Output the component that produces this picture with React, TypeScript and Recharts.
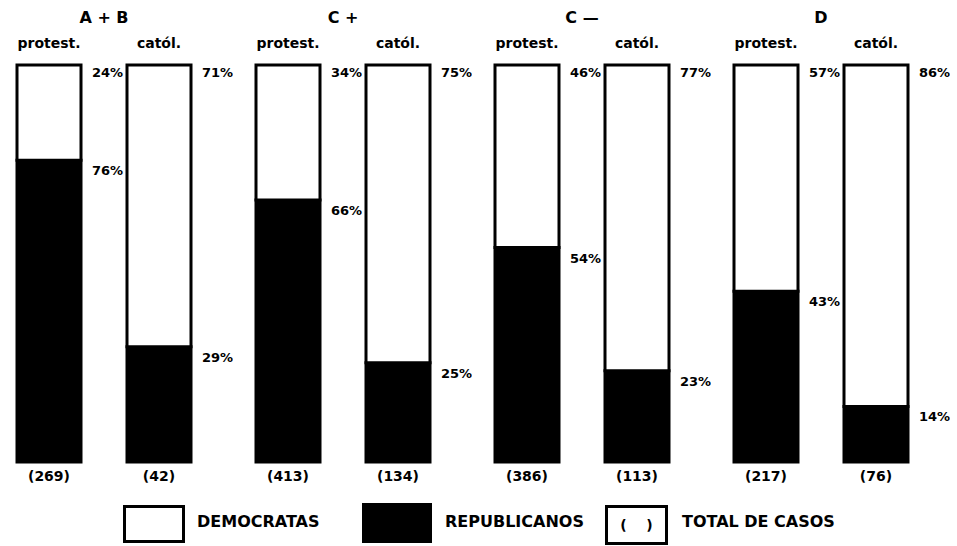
import React from 'react';
import { BarChart, Bar, XAxis, YAxis, LabelList } from 'recharts';

// grupos socioeconómicos y religión
const groups = ['A + B', 'C +', 'C —', 'D'];
const religions = ['protest.', 'catól.'];

// porcentajes por grupo: [protest., catól.]
const democratas = [
  [24, 71],
  [34, 75],
  [46, 77],
  [57, 86],
];
const republicanos = [
  [76, 29],
  [66, 25],
  [54, 23],
  [43, 14],
];
const totalCasos = [
  [269, 42],
  [413, 134],
  [386, 113],
  [217, 76],
];

const FONT = "'DejaVu Sans', sans-serif";

const PctLabel = (dy: number) => (props: any) => {
  const { x, y, width, value } = props;
  return (
    <text x={x + width + 11} y={y + dy} fill="#000" fontSize={13} fontWeight={700} fontFamily={FONT}>
      {value}%
    </text>
  );
};

const CountLabel = (props: any) => {
  const { x, y, width, height, value } = props;
  return (
    <text x={x + width / 2} y={y + height + 19} fill="#000" fontSize={14} fontWeight={700} fontFamily={FONT} textAnchor="middle">
      ({value})
    </text>
  );
};

const GroupChart = ({ idx }: { idx: number }) => {
  const data = religions.map((r, i) => ({
    name: r,
    dem: democratas[idx][i],
    rep: republicanos[idx][i],
    total: totalCasos[idx][i],
  }));
  return (
    <BarChart width={239} height={500} data={data} margin={{ top: 35, right: 19, bottom: 38, left: 0 }}>
      <XAxis
        dataKey="name"
        orientation="top"
        axisLine={false}
        tickLine={false}
        tickSize={0}
        tickMargin={17}
        tick={{ fill: '#000', fontSize: 14, fontWeight: 700, fontFamily: FONT }}
        label={{ value: groups[idx], position: 'top', offset: 12, fill: '#000', fontSize: 16, fontWeight: 700, fontFamily: FONT }}
      />
      <YAxis hide domain={[0, 100]} />
      <Bar dataKey="rep" stackId="a" fill="#000" stroke="#000" strokeWidth={3} barSize={64} isAnimationActive={false}>
        <LabelList dataKey="rep" content={PctLabel(15)} />
        <LabelList dataKey="total" content={CountLabel} />
      </Bar>
      <Bar dataKey="dem" stackId="a" fill="#fff" stroke="#000" strokeWidth={3} barSize={64} isAnimationActive={false}>
        <LabelList dataKey="dem" content={PctLabel(12)} />
      </Bar>
    </BarChart>
  );
};

const legendText: React.CSSProperties = {
  position: 'absolute',
  top: 514,
  fontSize: 16,
  lineHeight: '16px',
  fontWeight: 700,
  color: '#000',
  whiteSpace: 'nowrap',
};

export default function App() {
  return (
    <div style={{ position: 'absolute', left: 0, top: 0, width: 957, height: 546, background: '#fff', fontFamily: FONT, overflow: 'hidden' }}>
      <div style={{ position: 'absolute', left: -6, top: 0, display: 'flex' }}>
        {groups.map((g, i) => (
          <GroupChart key={g} idx={i} />
        ))}
      </div>
      {/* leyenda */}
      <div style={{ position: 'absolute', left: 123, top: 505, width: 62, height: 38, border: '3px solid #000', boxSizing: 'border-box', background: '#fff' }} />
      <div style={{ ...legendText, left: 197 }}>DEMOCRATAS</div>
      <div style={{ position: 'absolute', left: 362, top: 503, width: 70, height: 40, background: '#000' }} />
      <div style={{ ...legendText, left: 445 }}>REPUBLICANOS</div>
      <div
        style={{
          position: 'absolute', left: 605, top: 505, width: 63, height: 40, border: '3px solid #000', boxSizing: 'border-box',
          display: 'flex', alignItems: 'center', justifyContent: 'center', fontSize: 14, fontWeight: 700, whiteSpace: 'pre',
        }}
      >
        {'(    )'}
      </div>
      <div style={{ ...legendText, left: 682 }}>TOTAL DE CASOS</div>
    </div>
  );
}
